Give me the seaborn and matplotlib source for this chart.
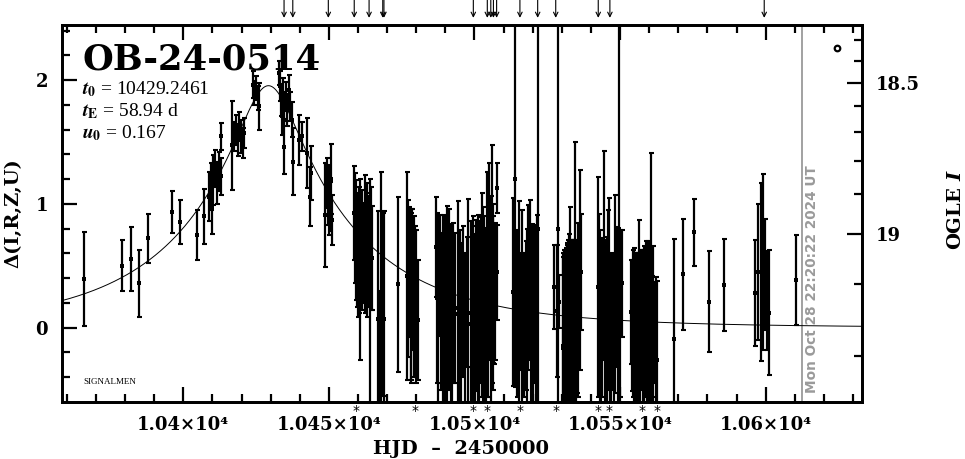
import numpy as np
import pandas as pd
import matplotlib
matplotlib.use("Agg")
import matplotlib.pyplot as plt
import matplotlib.transforms as mtransforms
from matplotlib.ticker import FixedLocator, MultipleLocator, NullFormatter
import seaborn as sns

# ---------------- data ----------------
event_name = "OB-24-0514"
t0 = 10429.2461
tE = 58.94
u0 = 0.167

hjd = [
    10365.9, 10378.8, 10381.9, 10384.9, 10388.0, 10396.0, 10399.0, 10404.8, 10407.1,
    10408.8, 10409.4, 10409.9, 10410.3, 10410.9, 10411.7, 10412.4, 10412.9, 10413.1,
    10416.8, 10417.4, 10418.1, 10418.7, 10419.2, 10419.8, 10420.4, 10421.0,
    10423.8, 10424.4, 10425.0, 10425.5, 10426.0,
    10432.9, 10433.2, 10433.6, 10434.0, 10434.3, 10434.6, 10434.7, 10435.2, 10435.7,
    10436.2, 10436.6, 10437.2, 10437.8, 10439.9, 10440.7, 10442.6, 10443.4, 10443.7,
    10448.7, 10449.2, 10449.6, 10449.9, 10450.2, 10450.5, 10450.7, 10451.1,
    10458.6, 10459.3, 10460.1, 10460.7, 10461.3, 10461.8, 10462.4, 10463.0, 10463.5,
    10464.1, 10464.9,
    10466.7, 10467.3, 10467.9, 10468.5, 10469.0,
    10473.8, 10476.9, 10477.5, 10478.1, 10478.7, 10479.2, 10479.9, 10480.6,
    10486.8, 10487.2, 10488.2, 10489.1, 10490.4, 10491.1, 10491.8, 10492.7, 10494.2,
    10495.0, 10495.9, 10496.7, 10497.9, 10498.7, 10499.6, 10500.5, 10501.3, 10502.1,
    10502.5, 10503.0, 10503.8, 10504.4, 10505.1, 10505.6, 10505.9, 10506.5, 10507.0,
    10507.6, 10507.8,
    10513.3, 10513.9, 10515.3, 10515.9, 10516.4, 10517.1, 10517.9, 10518.5, 10519.1,
    10519.6, 10520.2, 10520.8, 10521.4, 10521.7,
    10527.3, 10528.2, 10528.8, 10529.0,
    10530.3, 10530.7, 10531.3, 10531.9, 10532.5, 10532.8, 10533.4, 10533.9, 10534.5,
    10535.1, 10535.7, 10536.2, 10536.6,
    10542.3, 10542.8, 10543.3, 10543.9, 10544.5, 10545.2, 10545.7, 10546.3, 10546.9,
    10547.4, 10548.2, 10548.8, 10549.6, 10550.0, 10550.5,
    10553.6, 10554.3, 10554.8, 10555.3, 10555.9, 10556.5, 10557.1, 10557.6, 10558.2,
    10558.8, 10559.5, 10560.0, 10560.6, 10561.2, 10561.8, 10562.6,
    10568.5, 10571.7, 10575.4, 10580.6, 10585.6,
    10596.4, 10597.5, 10598.3, 10599.0, 10599.8, 10600.3, 10601.2, 10610.5,
    # further readings inside the densest blocks
    10459.0, 10459.8, 10460.5, 10461.6, 10462.7, 10463.9, 10464.6,
    10477.2, 10478.3, 10479.6,
    10487.6, 10488.6, 10489.8, 10492.3, 10493.4, 10495.5, 10497.3, 10499.1, 10500.1,
    10500.9, 10501.7, 10503.4, 10504.8, 10506.2, 10506.8,
    10514.7, 10517.6, 10519.3, 10521.1,
    10530.5, 10531.1, 10531.6, 10532.2, 10533.0, 10533.7, 10534.3, 10534.9,
    10543.1, 10544.8, 10545.5, 10546.6, 10547.8, 10549.4,
    10554.0, 10555.1, 10555.7, 10556.8, 10558.0, 10559.1, 10559.8, 10560.9, 10562.2,
]

delta = [
    0.395, 0.502, 0.553, 0.359, 0.722, 0.933, 0.857, 0.749, 0.898,
    1.059, 1.140, 0.978, 1.194, 1.288, 1.167, 1.261, 1.544, 1.221,
    1.474, 1.544, 1.598, 1.517, 1.625, 1.544, 1.490, 1.571,
    1.962, 1.895, 1.935, 1.854, 1.787,
    2.056, 1.949, 1.841, 1.706, 1.895, 1.463, 1.787, 1.868, 1.760,
    1.922, 1.787, 1.679, 1.342, 1.517, 1.544, 1.410, 1.059, 1.248,
    0.906, 1.167, 1.032, 0.925, 1.113, 0.978, 1.200, 0.871,
    0.925, 0.709, 0.588, 0.467, 0.628, 0.656, 0.676, 0.628, 0.642,
    0.197, 0.560,
    0.070, -0.250, 0.230, 0.184, 0.070,
    0.352, 0.420, 0.453, 0.265, 0.390, 0.250, 0.170, 0.062,
    0.655, 0.240, 0.420, 0.055, 0.090, 0.230, 0.020, 0.197, 0.110,
    0.000, 0.210, -0.100, 0.120, 0.030, 0.050, 0.180, 0.055, 0.220,
    0.264, 0.039, -0.048, 0.350, 0.534, 0.080, 0.514, 0.305, 0.290,
    1.127, 0.446,
    0.285, 1.200, 0.060, 0.130, 0.026, 0.020, -0.050, 0.325, 0.386,
    -0.030, -0.035, 0.180, 0.005, 0.800,
    0.330, 0.136, 0.800, 0.210,
    -0.150, -0.136, -0.130, -0.110, -0.070, 0.237, -0.096, -0.096, 0.469,
    0.089, 0.143, 0.467, 0.450,
    0.330, 0.330, -0.096, 0.082, 0.581, -0.096, 0.224, 0.285, -0.150,
    0.042, 0.271, 0.251, 0.800, 0.116, 0.359,
    0.130, 0.035, -0.130, 0.035, 0.076, -0.015, -0.060, 0.089, -0.120,
    0.069, -0.100, 0.136, 0.255, -0.120, -0.040, -0.260,
    -0.090, 0.430, 0.770, 0.210, 0.345,
    0.280, 0.450, 0.450, 0.530, 0.430, 0.220, 0.120, 0.386,
    0.804, 0.601, 0.628, 0.575, 0.655, 0.601, 0.640,
    0.400, 0.240, 0.265,
    0.000, 0.130, 0.000, -0.110, 0.157, -0.110, 0.210, -0.040, -0.070,
    0.240, -0.020, 0.000, 0.116, 0.250, 0.250,
    0.116, 0.100, -0.050, -0.050,
    -0.163, -0.136, -0.116, -0.096, -0.096, -0.096, -0.096, -0.109,
    -0.050, -0.096, -0.082, -0.156, -0.156, -0.050,
    0.020, -0.150, -0.140, -0.136, -0.130, -0.109, -0.109, -0.070, -0.244,
]

delta_err = [
    0.380, 0.203, 0.260, 0.272, 0.198, 0.168, 0.178, 0.202, 0.221,
    0.200, 0.190, 0.220, 0.200, 0.150, 0.170, 0.160, 0.110, 0.150,
    0.360, 0.120, 0.120, 0.130, 0.120, 0.130, 0.120, 0.120,
    0.110, 0.100, 0.100, 0.100, 0.190,
    0.100, 0.120, 0.130, 0.150, 0.120, 0.220, 0.120, 0.120, 0.130,
    0.120, 0.120, 0.140, 0.270, 0.200, 0.120, 0.280, 0.240, 0.220,
    0.420, 0.200, 0.200, 0.180, 0.200, 0.200, 0.280, 0.200,
    0.378, 0.485, 0.500, 0.730, 0.485, 0.350, 0.560, 0.540, 0.420,
    1.000, 0.420,
    0.870, 0.550, 1.030, 0.740, 0.870,
    0.707, 0.840, 0.525, 0.690, 0.570, 0.650, 0.620, 0.485,
    0.404, 0.690, 0.490, 0.855, 0.890, 0.730, 0.820, 0.647, 0.910,
    0.790, 0.610, 0.700, 0.920, 0.830, 0.850, 0.690, 0.855, 0.670,
    0.822, 0.939, 0.852, 0.910, 0.795, 0.980, 0.964, 0.593, 0.552,
    0.200, 0.384,
    0.760, 1.680, 0.960, 0.470, 0.926, 0.580, 0.850, 0.667, 0.646,
    0.870, 0.865, 0.630, 0.905, 1.900,
    0.340, 0.532, 1.900, 0.215,
    0.750, 0.764, 0.770, 0.790, 0.830, 0.741, 0.805, 0.805, 1.027,
    0.620, 0.700, 0.810, 0.470,
    0.890, 0.590, 0.805, 0.640, 0.842, 0.805, 0.728, 0.760, 0.750,
    0.546, 0.802, 0.566, 1.900, 0.674, 0.432,
    0.420, 0.593, 0.770, 0.566, 0.526, 0.885, 0.445, 0.539, 0.780,
    0.627, 0.800, 0.559, 1.155, 0.780, 0.410, 0.640,
    0.810, 0.450, 0.270, 0.410, 0.370,
    0.430, 0.550, 0.720, 0.710, 0.450, 0.400, 0.505, 0.364,
    0.445, 0.431, 0.512, 0.378, 0.431, 0.431, 0.500,
    0.633, 0.690, 0.553,
    0.900, 0.633, 0.900, 0.790, 0.607, 0.790, 0.525, 0.860, 0.830,
    0.550, 0.880, 0.900, 0.674, 0.750, 0.540,
    0.674, 0.600, 0.840, 0.840,
    0.737, 0.764, 0.784, 0.805, 0.805, 0.805, 0.805, 0.791,
    0.840, 0.805, 0.818, 0.744, 0.744, 0.840,
    0.530, 0.750, 0.740, 0.764, 0.760, 0.791, 0.791, 0.490, 0.656,
]

# points off the top / bottom of the panel (markers along the frame)
arrow_hjd = [10434.6, 10437.6, 10449.8, 10458.7, 10463.8, 10468.5, 10468.9, 10499.6,
             10504.4, 10505.6, 10506.5, 10507.6, 10515.6, 10521.7, 10527.9,
             10542.5, 10546.5, 10599.5]
star_hjd = [10459.3, 10479.6, 10499.6, 10504.4, 10515.6, 10527.9, 10542.5,
            10546.3, 10557.6, 10562.6]

now_hjd = 10612.43
now_label = "Mon Oct 28 22:20:22 2024 UT"

x_major = [10400, 10450, 10500, 10550, 10600]
x_major_labels = ["1.04×10⁴", "1.045×10⁴", "1.05×10⁴", "1.055×10⁴", "1.06×10⁴"]
y_major = [0, 1, 2]
y_major_labels = ["0", "1", "2"]
mag_major = [18.5, 19.0]
mag_major_labels = ["18.5", "19"]
mag_minor = [18.3, 18.4, 18.6, 18.7, 18.8, 18.9, 19.1, 19.2]

# OGLE I baseline and source-flux fraction implied by the right-hand scale
I_BASE = 19.166
F_SOURCE = 0.163

XLIM = (10358.24, 10633.17)
YLIM = (-0.598, 2.4446)


def mag_to_delta(m):
    m = np.asarray(m, dtype=float)
    return 2.5 * np.log10(1 + (10 ** (-0.4 * (m - I_BASE)) - 1) / F_SOURCE)


def pacz_delta(t):
    u = np.sqrt(u0 ** 2 + ((t - t0) / tE) ** 2)
    A = (u ** 2 + 2) / (u * np.sqrt(u ** 2 + 4))
    return 2.5 * np.log10(A)


df = pd.DataFrame({"hjd": hjd, "delta": delta, "err": delta_err})
t_model = np.linspace(XLIM[0], XLIM[1], 1200)
model = pd.DataFrame({"hjd": t_model, "delta": pacz_delta(t_model)})

# ---------------- style ----------------
sns.set_style("ticks")
plt.rcParams["font.family"] = ["DejaVu Serif", "DejaVu Sans"]
plt.rcParams["font.weight"] = "bold"
plt.rcParams["axes.linewidth"] = 2.0
for key in ["axes.edgecolor", "text.color", "xtick.color", "ytick.color",
            "axes.labelcolor"]:
    plt.rcParams[key] = "black"

fig = plt.figure(figsize=(9.65, 4.59), dpi=100)
ax = fig.add_axes([0.06394, 0.12484, 0.8296, 0.8207])

ax.errorbar(df["hjd"], df["delta"], yerr=df["err"], fmt="none", ecolor="black",
            elinewidth=1.6, capsize=1.8, capthick=1.5, zorder=3)
sns.scatterplot(data=df, x="hjd", y="delta", marker="s", s=5, color="black",
                edgecolor=None, linewidth=0, ax=ax, zorder=4)
sns.lineplot(data=model, x="hjd", y="delta", color="black", lw=0.7, ax=ax, zorder=2)

ax.axvline(now_hjd, color="#9a9a9a", lw=1.3, zorder=1)

ax.set_xlim(*XLIM)
ax.set_ylim(*YLIM)
ax.set_xlabel("")
ax.set_ylabel("")

ax.xaxis.set_major_locator(FixedLocator(x_major))
ax.set_xticklabels(x_major_labels)
ax.xaxis.set_minor_locator(MultipleLocator(10))
ax.yaxis.set_major_locator(FixedLocator(y_major))
ax.set_yticklabels(y_major_labels)
ax.yaxis.set_minor_locator(MultipleLocator(0.2))

ax.tick_params(which="both", direction="in", top=True, right=False, width=1.6,
               color="black")
ax.tick_params(which="major", length=11)
ax.tick_params(which="minor", length=6)
ax.tick_params(axis="x", which="major", pad=10.5, labelsize=13)
ax.tick_params(axis="y", which="major", pad=10, labelsize=13)

# right-hand OGLE I scale
ax2 = ax.twinx()
ax2.set_ylim(*YLIM)
ax2.yaxis.set_major_locator(FixedLocator(mag_to_delta(mag_major)))
ax2.set_yticklabels(mag_major_labels)
ax2.yaxis.set_minor_locator(FixedLocator(mag_to_delta(mag_minor)))
ax2.yaxis.set_minor_formatter(NullFormatter())
ax2.tick_params(which="both", direction="in", width=1.6, color="black")
ax2.tick_params(which="major", length=11, pad=10, labelsize=13)
ax2.tick_params(which="minor", length=6)
ax2.grid(False)
ax.grid(False)
for sp in ax2.spines.values():
    sp.set_linewidth(2.0)
    sp.set_color("black")

trans = mtransforms.blended_transform_factory(ax.transData, ax.transAxes)

for t in arrow_hjd:
    ax.annotate("", xy=(t, 1.019), xycoords=trans, xytext=(t, 1.066), textcoords=trans,
                arrowprops=dict(arrowstyle="->", lw=0.8, color="black",
                                shrinkA=0, shrinkB=0, mutation_scale=8),
                annotation_clip=False)
for t in star_hjd:
    ax.text(t, -0.006, "*", transform=trans, ha="center", va="top", fontsize=10,
            fontweight="normal", family="DejaVu Sans", clip_on=False)

ax.text(now_hjd + 1.0, 0.023, now_label, transform=trans, rotation=90,
        ha="left", va="bottom", fontsize=9.8, color="#9a9a9a", fontweight="bold",
        family="DejaVu Sans")

# title and fit parameters
ax.text(0.0254, 0.8806, event_name, transform=ax.transAxes, ha="left", va="baseline",
        fontsize=25.5, fontweight="bold", family="DejaVu Serif")
param_lines = [r"$t_0$ = %.4f" % t0, r"$t_\mathrm{E}$ = %.2f d" % tE, r"$u_0$ = %.3f" % u0]
for line, yb in zip(param_lines, [0.816, 0.7566, 0.699]):
    ax.text(0.0254, yb, line, transform=ax.transAxes, ha="left", va="baseline",
            fontsize=14, fontweight="normal", family="Liberation Serif",
            math_fontfamily="stix")
ax.text(0.0266, 0.047, "SIGNALMEN", transform=ax.transAxes, ha="left", va="baseline",
        fontsize=6.5, fontweight="normal", family="Liberation Serif")
ax.plot([0.969], [0.938], marker="o", ms=4, mfc="white", mec="black", mew=1.6,
        transform=ax.transAxes, clip_on=False)

fig.text(461 / 965, 1 - 454 / 459, "HJD  –  2450000", ha="center", va="baseline",
         fontsize=14, fontweight="bold")
fig.text(13 / 965, 1 - 213 / 459, "Δ(I,R,Z,U)", ha="center", va="center",
         rotation=90, fontsize=14, fontweight="bold")
fig.text(956 / 965, 1 - 210 / 459, r"OGLE $I$", ha="center", va="center",
         rotation=90, fontsize=14, fontweight="bold", math_fontfamily="dejavuserif")

fig.savefig("out.png", dpi=100)
